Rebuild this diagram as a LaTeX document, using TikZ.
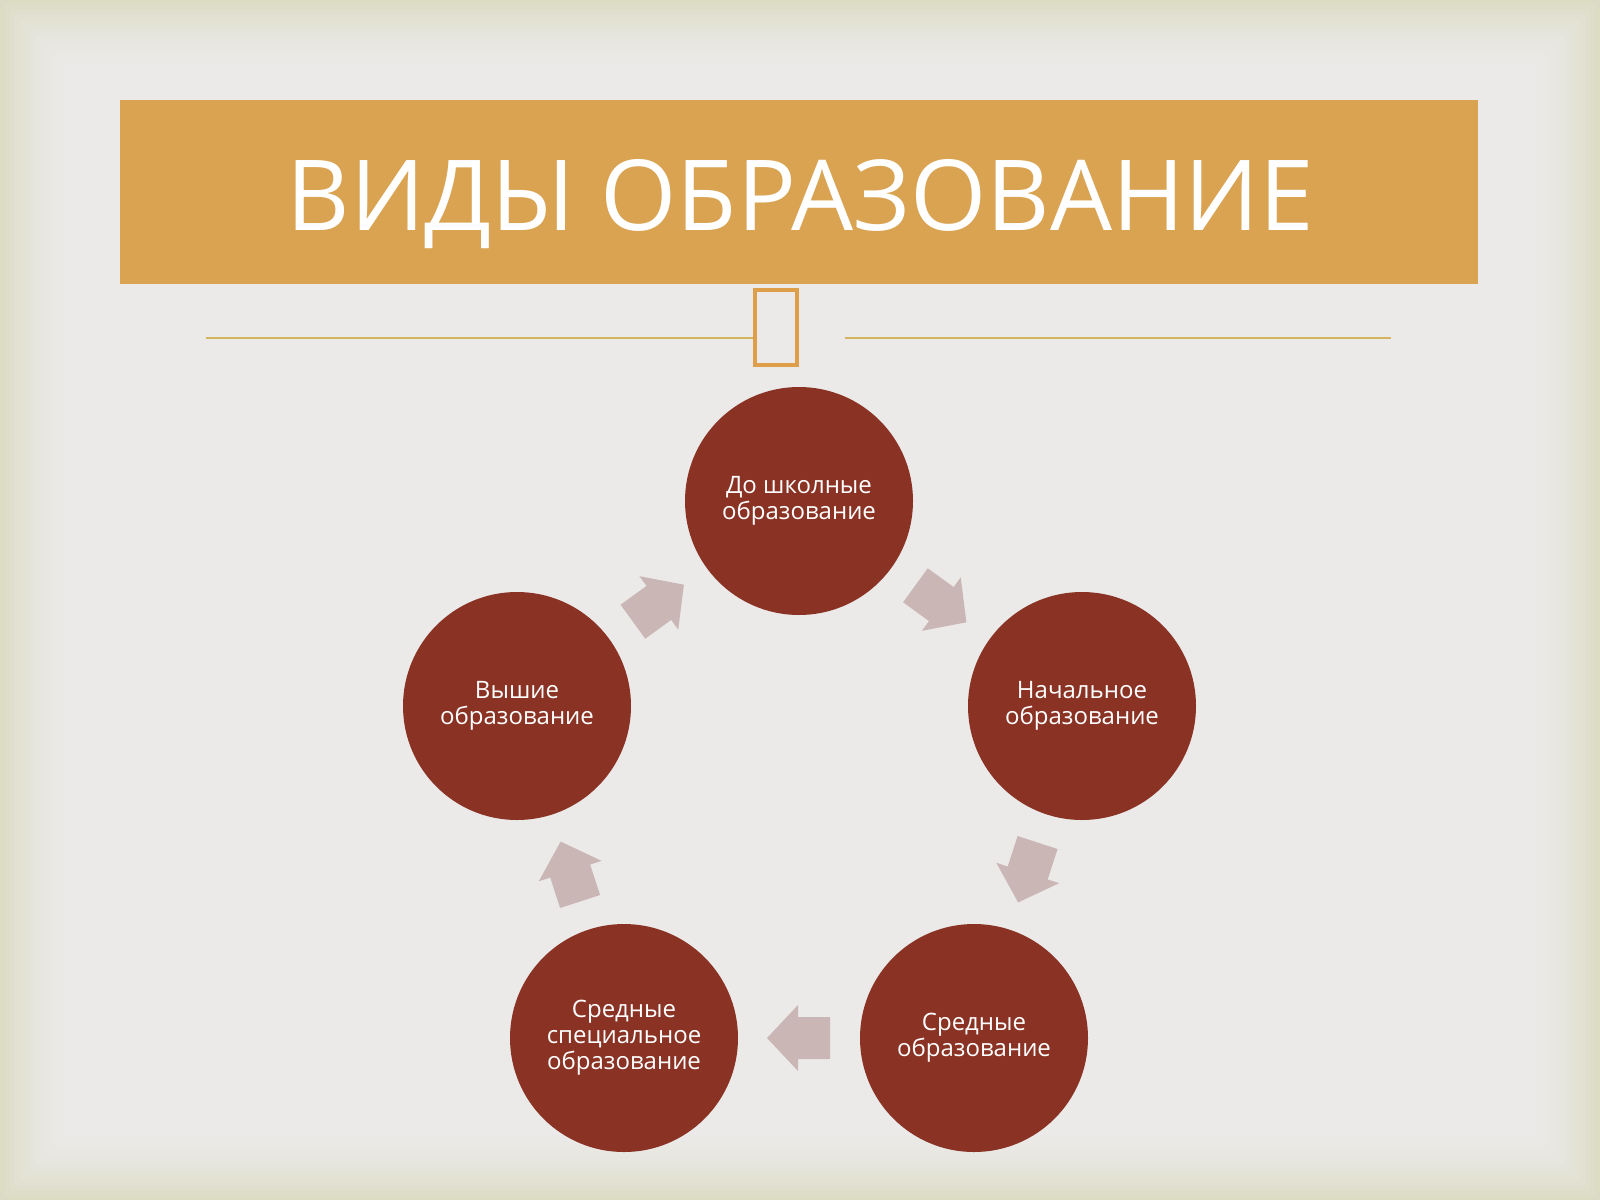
\documentclass[tikz,border=0pt]{standalone}
\usepackage{fontspec}
\setmainfont{Open Sans}
\usetikzlibrary{calc}

\definecolor{bgin}{HTML}{EBEAE9}
\definecolor{bgout}{HTML}{DCDBC4}
\definecolor{barorange}{HTML}{D9A352}
\definecolor{boxorange}{HTML}{DF9F4A}
\definecolor{rulegold}{HTML}{D5B45E}
\definecolor{stagered}{HTML}{8A3325}
\definecolor{flowgrey}{HTML}{CAB6B5}

\begin{document}
\begin{tikzpicture}[
    x=1pt, y=-1pt,
    stage/.style={circle, fill=stagered, text=white, minimum size=228pt, inner sep=0pt, align=center, font=\fontsize{24}{26}\selectfont},
    titlebar/.style={rectangle, fill=barorange, minimum width=1358pt, minimum height=184pt, inner sep=0pt},
    flow/.pic={\fill[flowgrey] (-31,-21) -- (1,-21) -- (1,-33) -- (32,0) -- (1,33) -- (1,21) -- (-31,21) -- cycle;}
]
\useasboundingbox (0,0) rectangle (1600,1200);
% background with a soft beige rim
\foreach \i in {0,...,16}{
  \pgfmathtruncatemacro\pct{100*(1-\i/16)^2}
  \fill[bgout!\pct!bgin] (5*\i,5*\i) rectangle (1600-5*\i,1200-5*\i);
}

\node[titlebar] (bar) at (799,192) {};
\node[text=white, font=\fontsize{98}{98}\selectfont, anchor=base] (title) at (800,230) {ВИДЫ ОБРАЗОВАНИЕ};

\draw[rulegold, line width=2pt] (206,338) -- (753,338);
\draw[rulegold, line width=2pt] (845,338) -- (1391,338);
\draw[boxorange, line width=4pt] (755,290) rectangle (797,365);

\node[stage] (st1) at (799,501) {До школные\\образование};
\node[stage] (st2) at (1082,706) {Начальное\\образование};
\node[stage] (st3) at (974,1038) {Средные\\образование};
\node[stage] (st4) at (624,1038) {Средные\\специальное\\образование};
\node[stage] (st5) at (517,706) {Вышие\\образование};

\pic[rotate=-36] at ($(st1)!0.5!(st2)$) {flow};
\pic[rotate=-108] at ($(st2)!0.5!(st3)$) {flow};
\pic[rotate=180] at ($(st3)!0.5!(st4)$) {flow};
\pic[rotate=108] at ($(st4)!0.5!(st5)$) {flow};
\pic[rotate=36] at ($(st5)!0.5!(st1)$) {flow};
\end{tikzpicture}
\end{document}
